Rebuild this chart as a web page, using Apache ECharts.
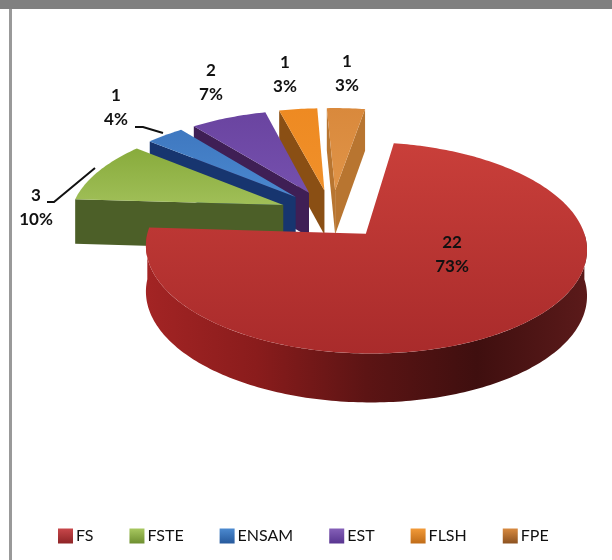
<!DOCTYPE html>
<html>
<head>
<meta charset="utf-8">
<style>
  html, body { margin: 0; padding: 0; background: #fff; }
  #chart { width: 612px; height: 560px; }
</style>
<script src="https://cdn.jsdelivr.net/npm/echarts@6/dist/echarts.min.js"></script>
</head>
<body>
<div id="chart"></div>
<script>
// --- data ---
const categories = ['FS', 'FSTE', 'ENSAM', 'EST', 'FLSH', 'FPE'];
const seriesValues = [22, 3, 1, 2, 1, 1];
const percentLabels = ['73%', '10%', '4%', '7%', '3%', '3%'];

// --- look of each slice ---
const topColors = [
  ['#c93f3a', '#a92b2b'], ['#88ab3c', '#a0bf58'], ['#3f78c0', '#4a88cf'],
  ['#6a44a0', '#7550ae'], ['#ee8a22', '#f0902a'], ['#d9893c', '#e09448']
];
const wallColors = ['#8e1e1e', '#4c5f28', '#17356f', '#3f1f55', '#8a4f14', '#b87530'];
const legendColors = [
  ['#c8474a', '#8e2426'], ['#a8c860', '#6e8f30'], ['#4c8ad0', '#26599c'],
  ['#8560b8', '#583590'], ['#f29a38', '#c06c18'], ['#d88a40', '#8c5220']
];
// label centres, picked by hand like the original
const labelPos = [[452, 255], [36, 208], [116, 108], [211, 83], [285, 75], [347, 74]];

// --- pie geometry ---
const CX = 332, CY = 214;     // pie centre before the slices are pulled out
const R = 213;                // radius
const TILT = 0.463;           // vertical squash
const PERSP = 0.13;           // far side smaller than near side
const EXPLODE = 53;
const DEPTH = 45;
const START_ANGLE = 9.5;

const total = seriesValues.reduce((a, b) => a + b, 0);
const rad = d => d * Math.PI / 180;

// point in the pie plane -> screen. side = along the x, back = towards the far side
const project = (side, back, drop) => {
  const w = 1 + PERSP * back / R;
  return [CX + side / w, CY - R * TILT * (back / R) / w + (drop || 0) / Math.sqrt(w)];
};

const sliceRange = i => {
  const before = seriesValues.slice(0, i).reduce((a, b) => a + b, 0);
  return [START_ANGLE + before / total * 360, START_ANGLE + (before + seriesValues[i]) / total * 360];
};

const polygon = (points, fill, z2) => ({
  type: 'polygon', z2: z2, silent: true,
  shape: { points: points },
  style: { fill: fill, stroke: null }
});

const renderSlice = i => () => {
  const [a0, a1] = sliceRange(i);
  const mid = rad((a0 + a1) / 2);
  const ox = EXPLODE * Math.sin(mid), oy = EXPLODE * Math.cos(mid);
  const rim = (a, drop) => project(ox + R * Math.sin(rad(a)), oy + R * Math.cos(rad(a)), drop);
  const apex = drop => project(ox, oy, drop);

  const topArc = [];
  for (let a = a0; a <= a1 + 0.01; a += 1) topArc.push(rim(a, 0));

  const children = [];

  // radial walls, only the ones turned to the viewer
  const wall = (a, sign) => {
    const nx = sign * Math.cos(rad(a)), nb = -sign * Math.sin(rad(a));
    const facing = nx * (0 - ox) + nb * (-R / PERSP - oy);
    if (facing <= 0) return;
    children.push(polygon([apex(0), rim(a, 0), rim(a, DEPTH), apex(DEPTH)], wallColors[i], 1));
  };
  wall(a0, -1);
  wall(a1, 1);

  // outer wall, front half only
  const from = Math.max(a0, 90), to = Math.min(a1, 270);
  if (to > from) {
    const up = [], down = [];
    for (let a = from; a <= to + 0.01; a += 1) {
      up.push(rim(a, 0));
      down.unshift(rim(a, DEPTH));
    }
    const fill = new echarts.graphic.LinearGradient(0, 0, 1, 0, [
      { offset: 0, color: '#a32424' },
      { offset: 0.25, color: '#8a1c1c' },
      { offset: 0.5, color: '#5c1414' },
      { offset: 0.75, color: '#3f0f0f' },
      { offset: 1, color: '#5b1a1a' }
    ]);
    children.push(polygon(up.concat(down), fill, 2));
  }

  // top face
  const topFill = new echarts.graphic.LinearGradient(0, 0, 0, 1, [
    { offset: 0, color: topColors[i][0] },
    { offset: 1, color: topColors[i][1] }
  ]);
  children.push(polygon([apex(0)].concat(topArc), topFill, 3));

  // value + percent
  children.push({
    type: 'text', z2: 5, silent: true,
    style: {
      x: labelPos[i][0], y: labelPos[i][1],
      text: seriesValues[i] + '\n' + percentLabels[i],
      align: 'center', verticalAlign: 'middle',
      font: 'bold 17px Lato', lineHeight: 24, fill: '#111'
    }
  });

  return { type: 'group', children: children };
};

const leaderLines = [
  [[47, 202], [54, 202], [95, 168]],
  [[135, 127], [143, 127], [163, 133]]
];

const chart = echarts.init(document.getElementById('chart'), null, { renderer: 'canvas' });

chart.setOption({
  animation: false,
  backgroundColor: '#fff',
  legend: {
    left: 58, top: 528, padding: 0,
    itemWidth: 15, itemHeight: 15, itemGap: 36,
    selectedMode: false,
    icon: 'rect',
    formatter: name => name,
    textStyle: { fontFamily: 'Lato', fontSize: 16, color: '#111', padding: [0, 0, 0, -2] },
    data: categories.map((name, i) => ({
      name: name,
      itemStyle: {
        color: new echarts.graphic.LinearGradient(0, 0, 0, 1, [
          { offset: 0, color: legendColors[i][0] },
          { offset: 1, color: legendColors[i][1] }
        ])
      }
    }))
  },
  graphic: [
    // grey frame from the source document
    { type: 'rect', shape: { x: 0, y: 0, width: 612, height: 9 }, style: { fill: '#808080' }, silent: true },
    { type: 'rect', shape: { x: 9, y: 9, width: 3, height: 551 }, style: { fill: '#999999' }, silent: true },
    ...leaderLines.map(points => ({
      type: 'polyline', z: 20, silent: true,
      shape: { points: points },
      style: { stroke: '#111', lineWidth: 2, fill: null }
    }))
  ],
  series: categories.map((name, i) => ({
    type: 'custom',
    name: name,
    coordinateSystem: 'none',
    z: 10 - i,
    silent: true,
    itemStyle: { color: topColors[i][0] },
    data: [seriesValues[i]],
    renderItem: renderSlice(i)
  }))
});
</script>
</body>
</html>
